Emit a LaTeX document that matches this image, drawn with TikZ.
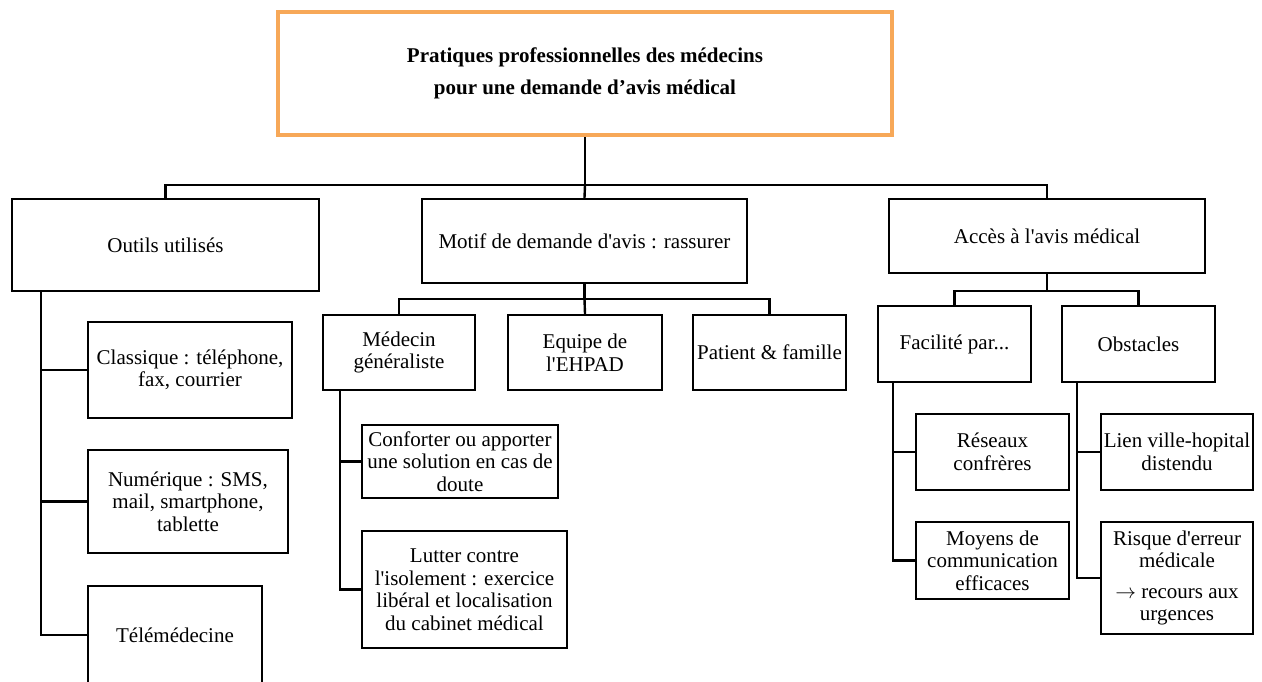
\documentclass[tikz,border=0pt]{standalone}
\usepackage{fontspec}
\setmainfont{Liberation Serif}[Ligatures=TeXOff]
\usepackage{tikz}
\definecolor{titleorange}{RGB}{247,168,88}
\tikzset{
  box/.style={draw, line width=2.4pt, align=center, inner sep=0pt,
    font=\fontsize{21}{22.5}\selectfont},
  titlebox/.style={box, draw=titleorange, line width=4.5pt,
    font=\bfseries\fontsize{21}{32}\selectfont},
  link/.style={line width=2.4pt},
}

\begin{document}
\begin{tikzpicture}[x=1pt,y=-1pt]
\useasboundingbox (0,0) rectangle (1262,682);

% title
\node[titlebox, minimum width=614, minimum height=123] (titre) at (585,73.5)
  {Pratiques professionnelles des médecins\\pour une demande d’avis médical};

% first level
\node[box, minimum width=307, minimum height=92] (outils) at (165.5,245) {Outils utilisés};
\node[box, minimum width=325, minimum height=84] (motif) at (584.5,241) {Motif de demande d'avis : rassurer};
\node[box, minimum width=316, minimum height=74] (acces) at (1047,236) {Accès à l'avis médical};

\draw[link] (titre.south) -- ++(0,48) coordinate (bus0);
\draw[link] (outils.north) |- (bus0) -| (acces.north);
\draw[link] (bus0) -- (motif.north);

% motif
\node[box, minimum width=152, minimum height=75] (medecin) at (399,352.5) {Médecin\\généraliste};
\node[box, minimum width=154, minimum height=75] (equipe) at (585,352.5) {Equipe de\\l'EHPAD};
\node[box, minimum width=153, minimum height=75] (patient) at (769.5,352.5) {Patient \& famille};

\draw[link] (motif.south) -- ++(0,15) coordinate (bus1);
\draw[link] (medecin.north) |- (bus1) -| (patient.north);
\draw[link] (bus1) -- (equipe.north);

% acces
\node[box, minimum width=153, minimum height=76] (facilite) at (954.5,344) {Facilité par...};
\node[box, minimum width=153, minimum height=76] (obstacles) at (1138.5,344) {Obstacles};

\draw[link] (acces.south) -- ++(0,17) coordinate (bus2);
\draw[link] (facilite.north) |- (bus2) -| (obstacles.north);

% outils
\node[box, minimum width=204, minimum height=96] (classique) at (190,370) {Classique : téléphone,\\fax, courrier};
\node[box, minimum width=200, minimum height=103] (numerique) at (188,501.5) {Numérique : SMS,\\mail, smartphone,\\tablette};
\node[box, minimum width=174, minimum height=98] (telemed) at (175,635) {Télémédecine};

\draw[link] ([xshift=30pt]outils.south west) |- (classique.west);
\draw[link] ([xshift=30pt]outils.south west) |- (numerique.west);
\draw[link] ([xshift=30pt]outils.south west) |- (telemed.west);

% medecin generaliste
\node[box, minimum width=196, minimum height=73] (conforter) at (460,461.5) {Conforter ou apporter\\une solution en cas de\\doute};
\node[box, minimum width=205, minimum height=117] (lutter) at (464.5,589.5) {Lutter contre\\l'isolement : exercice\\libéral et localisation\\du cabinet médical};

\draw[link] ([xshift=18pt]medecin.south west) |- (conforter.west);
\draw[link] ([xshift=18pt]medecin.south west) |- (lutter.west);

% facilite
\node[box, minimum width=153, minimum height=76] (reseaux) at (992.5,452) {Réseaux\\confrères};
\node[box, minimum width=153, minimum height=77] (moyens) at (992.5,560.5) {Moyens de\\communication\\efficaces};

\draw[link] ([xshift=16pt]facilite.south west) |- (reseaux.west);
\draw[link] ([xshift=16pt]facilite.south west) |- (moyens.west);

% obstacles
\node[box, minimum width=152, minimum height=76] (lien) at (1177,452) {Lien ville-hopital\\distendu};
\node[box, minimum width=152, minimum height=112] (risque) at (1177,578) {Risque d'erreur\\médicale\\[8pt] $\rightarrow$ recours aux\\urgences};

\draw[link] ([xshift=16pt]obstacles.south west) |- (lien.west);
\draw[link] ([xshift=16pt]obstacles.south west) |- (risque.west);

\end{tikzpicture}
\end{document}
